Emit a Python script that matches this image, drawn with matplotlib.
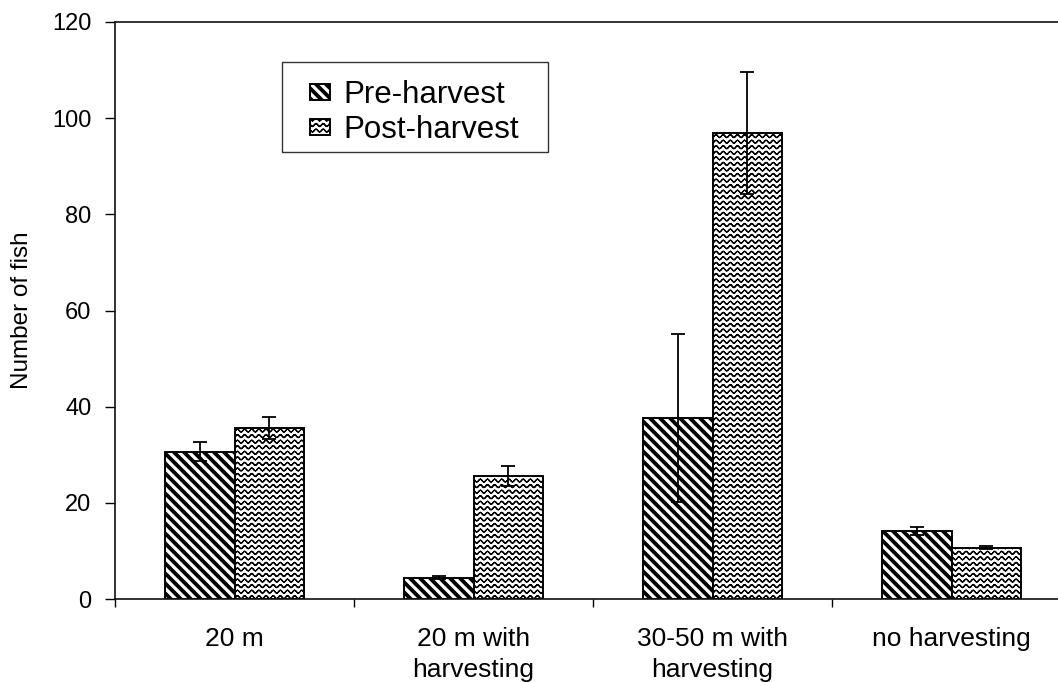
import numpy as np
import matplotlib
matplotlib.use("Agg")
import matplotlib.pyplot as plt
import matplotlib.hatch as mhatch
from matplotlib.path import Path
from matplotlib.patches import Rectangle
from matplotlib.legend_handler import HandlerPatch

# ---- data -------------------------------------------------------------
categories = ["20 m", "20 m with\nharvesting", "30-50 m with\nharvesting", "no harvesting"]
series_names = ["Pre-harvest", "Post-harvest"]
pre_mean = [30.6, 4.4, 37.7, 14.1]
pre_err = [2.0, 0.3, 17.5, 0.8]
post_mean = [35.5, 25.6, 97.0, 10.7]
post_err = [2.3, 2.0, 12.7, 0.3]
y_ticks = [0, 20, 40, 60, 80, 100, 120]


# ---- custom fill patterns ----------------------------------------------
class DiagonalBands(mhatch.HatchPatternBase):
    """Thick '\\' stripes drawn as filled bands (triggered by '\\')."""
    per_tile = 10
    band = 0.036

    def __init__(self, hatch, density):
        self.on = hatch.count('\\') > 0
        k = self.per_tile
        self.cs = [j / k for j in range(-2, 2 * k + 2)] if self.on else []
        self.num_vertices = 5 * len(self.cs)

    def set_vertices_and_codes(self, vertices, codes):
        w = self.band
        for i, c in enumerate(self.cs):
            v = np.array([[-1.0, c + 1.0], [2.0, c - 2.0],
                          [2.0, c - 2.0 + w], [-1.0, c + 1.0 + w], [-1.0, c + 1.0]])
            vertices[5 * i:5 * i + 5] = v
            codes[5 * i:5 * i + 5] = [Path.MOVETO, Path.LINETO, Path.LINETO,
                                      Path.LINETO, Path.CLOSEPOLY]


class WaveRows(mhatch.HatchPatternBase):
    """Rows of small horizontal waves (triggered by 'O')."""
    rows = 18
    periods = 14
    steps = 8
    amp = 0.014

    def __init__(self, hatch, density):
        self.on = hatch.count('O') > 0
        self.nseg = self.rows * self.periods * self.steps if self.on else 0
        self.num_vertices = 2 * self.nseg

    def set_vertices_and_codes(self, vertices, codes):
        n = self.periods * self.steps
        xs = np.linspace(0.0, 1.0, n + 1)
        k = 0
        for r in range(self.rows):
            y0 = (r + 0.5) / self.rows
            ys = y0 + self.amp * np.sin(2 * np.pi * self.periods * xs)
            for s in range(n):
                vertices[k] = (xs[s], ys[s])
                vertices[k + 1] = (xs[s + 1], ys[s + 1])
                codes[k] = Path.MOVETO
                codes[k + 1] = Path.LINETO
                k += 2


mhatch._hatch_types = [DiagonalBands, WaveRows]

plt.rcParams["font.family"] = ["Liberation Sans", "DejaVu Sans"]
plt.rcParams["hatch.linewidth"] = 0.9
plt.rcParams["hatch.color"] = "black"

W, H = 1058, 682
fig = plt.figure(figsize=(W / 100, H / 100), dpi=100)
ax = fig.add_axes([115 / W, 83 / H, (1071 - 115) / W, 577 / H])

x = np.arange(len(categories))
bw = 0.289
hatches = ['\\', 'O']

b1 = ax.bar(x - bw / 2, pre_mean, bw, facecolor="white", edgecolor="black",
            linewidth=1.4, hatch=hatches[0], label=series_names[0], zorder=2)
b2 = ax.bar(x + bw / 2, post_mean, bw, facecolor="white", edgecolor="black",
            linewidth=1.4, hatch=hatches[1], label=series_names[1], zorder=2)

ekw = dict(fmt="none", ecolor="black", elinewidth=1.3, capsize=5, capthick=1.3, zorder=3)
ax.errorbar(x - bw / 2, pre_mean, yerr=pre_err, **ekw)
ax.errorbar(x + bw / 2, post_mean, yerr=post_err, **ekw)

ax.set_xlim(-0.5, len(categories) - 0.5)
ax.set_ylim(0, 120)
ax.set_yticks(y_ticks)
ax.set_yticklabels([str(t) for t in y_ticks], fontsize=17)
ax.set_xticks(x)
ax.set_xticklabels(categories, fontsize=19, linespacing=1.33)
ax.set_xticks(np.arange(len(categories) + 1) - 0.5, minor=True)
ax.tick_params(axis="x", which="major", length=0, pad=20.5)
ax.tick_params(axis="x", which="minor", length=6, width=1.0, direction="out")
ax.tick_params(axis="y", which="major", length=7, width=1.0, direction="out", pad=10)

for side in ["left", "bottom", "top"]:
    ax.spines[side].set_linewidth(1.2)
    ax.spines[side].set_color("#111111")
ax.spines["right"].set_visible(False)

ax.set_ylabel("Number of fish", fontsize=17.5)
ax.yaxis.set_label_coords((33 - 115) / 956, 0.5)


def small_box(legend, orig_handle, xdescent, ydescent, width, height, fontsize):
    sw, sh = 14.4, 11.5
    return Rectangle((width - sw - xdescent, -ydescent + (height - sh) / 2), sw, sh)


leg = ax.legend(handles=[b1.patches[0], b2.patches[0]], labels=series_names,
                loc="upper left", bbox_to_anchor=(310 / W, 1 - 80 / H),
                bbox_transform=fig.transFigure, borderaxespad=0, borderpad=0,
                fontsize=22.5, frameon=False, labelspacing=0.17,
                handlelength=0.64, handleheight=0.55, handletextpad=0.42,
                handler_map={Rectangle: HandlerPatch(patch_func=small_box)})

# legend frame
fig.add_artist(Rectangle((282 / W, 1 - 152 / H), (548 - 282) / W, 90 / H,
                         transform=fig.transFigure, fill=False,
                         edgecolor="#333333", linewidth=1.0))

fig.savefig("out.png", dpi=100)
